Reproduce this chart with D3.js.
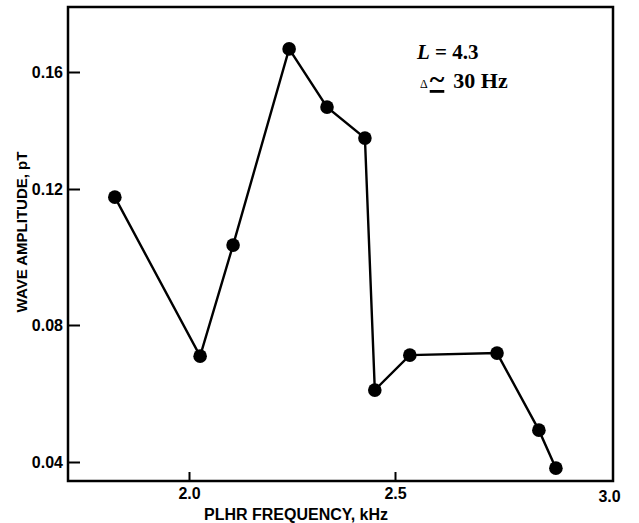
<!DOCTYPE html>
<html>
<head>
<meta charset="utf-8">
<script src="https://cdn.jsdelivr.net/npm/d3@7"></script>
<style>
  body { margin: 0; background: #fff; }
  svg { display: block; }
</style>
</head>
<body>
<div id="chart"></div>
<script>
// frequency (kHz) and amplitude (pT)
var freq = [1.820, 2.027, 2.107, 2.243, 2.335, 2.427, 2.451, 2.534, 2.734, 2.830, 2.869];
var amp  = [0.1176, 0.0709, 0.1035, 0.1679, 0.1480, 0.1374, 0.0610, 0.0712, 0.0718, 0.0493, 0.0382];
var x_ticks = [2.0, 2.5, 3.0];
var y_ticks = [0.04, 0.08, 0.12, 0.16];

let width = 639, height = 523;
let frame = {left: 68, top: 7, right: 613, bottom: 481};
let sans = "Liberation Sans, Arial, sans-serif";

var svg = d3.select("#chart")
    .append("svg")
    .attr("width", width)
    .attr("height", height);

// scanned figure is not quite linear, so piecewise scales
let x_scale = d3.scaleLinear()
    .domain(x_ticks)
    .range([189, 395, 613]);

let y_scale = d3.scaleLinear()
    .domain(y_ticks)
    .range([462, 325, 189, 72]);

// frame
svg.append("rect")
    .attr("x", frame.left)
    .attr("y", frame.top)
    .attr("width", frame.right - frame.left)
    .attr("height", frame.bottom - frame.top)
    .style("fill", "none")
    .style("stroke", "#000")
    .style("stroke-width", 2.5);

// x axis, ticks pointing inward
let gx = svg.append("g")
    .attr("transform", "translate(0," + frame.bottom + ")")
    .call(d3.axisBottom(x_scale).tickValues(x_ticks).tickFormat(d3.format(".1f")).tickSize(-9).tickPadding(7));
gx.select(".domain").remove();
gx.selectAll(".tick line").style("stroke-width", 2);
gx.selectAll(".tick text")
    .style("font-family", sans).style("font-size", "16px").style("font-weight", "bold");
let last = gx.selectAll(".tick").filter(d => d == 3.0);
last.select("line").remove();
last.select("text").attr("dx", -4).attr("y", 10);

// y axis, ticks pointing inward
let gy = svg.append("g")
    .attr("transform", "translate(" + frame.left + ",0)")
    .call(d3.axisLeft(y_scale).tickValues(y_ticks).tickFormat(d3.format(".2f")).tickSize(-12).tickPadding(5));
gy.select(".domain").remove();
gy.selectAll(".tick line").style("stroke-width", 2);
gy.selectAll(".tick text")
    .style("font-family", sans).style("font-size", "16px").style("font-weight", "bold");

// axis titles
svg.append("text")
    .attr("x", 296)
    .attr("y", 520)
    .attr("text-anchor", "middle")
    .style("font-family", sans)
    .style("font-weight", "bold")
    .style("font-size", "16px")
    .text("PLHR FREQUENCY, kHz");

svg.append("text")
    .attr("transform", "translate(27,232) rotate(-90)")
    .attr("text-anchor", "middle")
    .style("font-family", sans)
    .style("font-weight", "bold")
    .style("font-size", "15px")
    .text("WAVE AMPLITUDE, pT");

// data line and markers
let pts = freq.map((f, i) => ({f: f, a: amp[i]}));

svg.append("path")
    .datum(pts)
    .attr("d", d3.line().x(d => x_scale(d.f)).y(d => y_scale(d.a)))
    .style("fill", "none")
    .style("stroke", "#000")
    .style("stroke-width", 2.4);

svg.selectAll("circle")
    .data(pts)
    .enter()
    .append("circle")
    .attr("cx", d => x_scale(d.f))
    .attr("cy", d => y_scale(d.a))
    .attr("r", 6.8)
    .style("fill", "#000");

// annotation
let note = svg.append("g")
    .style("font-family", "Liberation Serif, Times New Roman, serif")
    .style("font-weight", "bold");

let l1 = note.append("text").attr("x", 417).attr("y", 59).style("font-size", "21px");
l1.append("tspan").style("font-style", "italic").text("L");
l1.append("tspan").text(" = 4.3");

let l2 = note.append("text").attr("x", 420).attr("y", 88).style("font-size", "22px");
l2.append("tspan").style("font-size", "12px").style("font-weight", "normal").text("\u0394");
l2.append("tspan").attr("dx", 2).style("font-size", "28px").style("text-decoration", "underline").text("~");
l2.append("tspan").attr("dx", 9).text("30 Hz");
</script>
</body>
</html>
